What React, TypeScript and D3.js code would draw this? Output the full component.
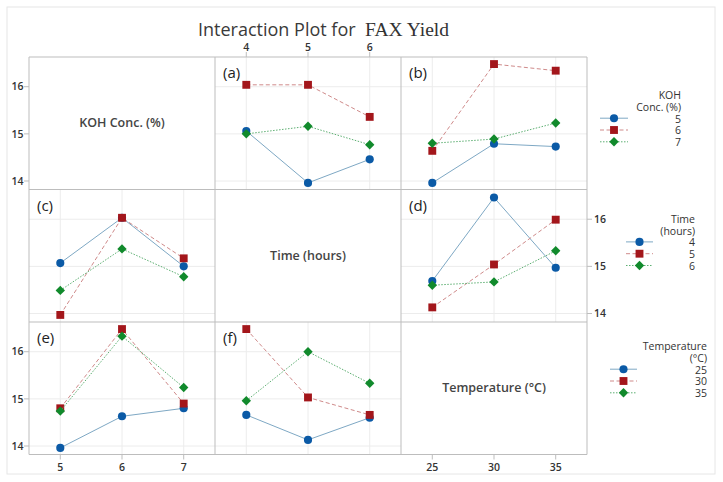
import React from "react";
import * as d3 from "d3";

// factor levels
const kohLevels = [5, 6, 7];
const timeLevels = [4, 5, 6];
const tempLevels = [25, 30, 35];

// mean FAX yield, rows = grouping factor level, cols = x factor level
const kohByTime = [
  [15.06, 13.96, 14.46],
  [16.04, 16.04, 15.36],
  [15.0, 15.16, 14.77],
];
const kohByTemp = [
  [13.96, 14.79, 14.73],
  [14.64, 16.48, 16.34],
  [14.8, 14.89, 15.23],
];
const timeByKoh = [
  [15.07, 16.03, 15.0],
  [13.97, 16.03, 15.17],
  [14.49, 15.37, 14.78],
];
const timeByTemp = [
  [14.69, 16.46, 14.97],
  [14.13, 15.04, 15.99],
  [14.6, 14.67, 15.33],
];
const tempByKoh = [
  [13.96, 14.63, 14.8],
  [14.8, 16.48, 14.9],
  [14.74, 16.33, 15.24],
];
const tempByTime = [
  [14.66, 14.13, 14.6],
  [16.48, 15.03, 14.66],
  [14.96, 16.0, 15.33],
];

const yTicks = [14, 15, 16];
const factorNames = ["KOH Conc. (%)", "Time (hours)", "Temperature (°C)"];
const legendTitles = [["KOH", "Conc. (%)"], ["Time", "(hours)"], ["Temperature", "(°C)"]];
const factorLevels = [kohLevels, timeLevels, tempLevels];

const cells: Record<string, { values: number[][]; tag: string }> = {
  "0-1": { values: kohByTime, tag: "(a)" },
  "0-2": { values: kohByTemp, tag: "(b)" },
  "1-0": { values: timeByKoh, tag: "(c)" },
  "1-2": { values: timeByTemp, tag: "(d)" },
  "2-0": { values: tempByKoh, tag: "(e)" },
  "2-1": { values: tempByTime, tag: "(f)" },
};

const series = [
  { fill: "#0b5aa6", stroke: "#7ea8c4", dash: "none", symbol: d3.symbolCircle, size: 52, rot: 0 },
  { fill: "#a3161b", stroke: "#cf8a8a", dash: "4,2.5", symbol: d3.symbolSquare, size: 62, rot: 0 },
  { fill: "#118a2c", stroke: "#5daf72", dash: "1.5,1.5", symbol: d3.symbolSquare, size: 44, rot: 45 },
];

const W = 723;
const H = 482;
const left = 29;
const top = 57;
const cw = 186;
const ch = 132.5;
const sans = "'Open Sans', 'Noto Sans', sans-serif";
const serif = "'Liberation Serif', 'Times New Roman', serif";

const legendLayout = [
  { y: 99, lineX: [600, 628], textX: 681 },
  { y: 222.7, lineX: [626, 653], textX: 695 },
  { y: 350, lineX: [610, 637], textX: 707 },
];
const legendStep = 11.8;

const App = () => {
  const y = d3.scaleLinear().domain([13.82, 16.63]).range([ch, 0]);
  const xScales = factorLevels.map((lv) => {
    const step = lv[1] - lv[0];
    return d3
      .scaleLinear()
      .domain([lv[0] - 0.507 * step, lv[2] + 0.507 * step])
      .range([0, cw]);
  });
  const sym = (i: number) => d3.symbol(series[i].symbol, series[i].size)() as string;

  const panels = [];
  for (let r = 0; r < 3; r++) {
    for (let c = 0; c < 3; c++) {
      const x = xScales[c];
      const key = `${r}-${c}`;
      const cell = cells[key];
      panels.push(
        <g key={key} transform={`translate(${left + c * cw}, ${top + r * ch})`}>
          {cell && (
            <g>
              {factorLevels[c].map((v) => (
                <line key={"v" + v} x1={x(v)} x2={x(v)} y1={0} y2={ch} stroke="#ececec" />
              ))}
              {yTicks.map((v) => (
                <line key={"h" + v} x1={0} x2={cw} y1={y(v)} y2={y(v)} stroke="#ececec" />
              ))}
              <text x={8} y={21} fontSize={15} fill="#222" fontFamily={sans}>
                {cell.tag}
              </text>
              {cell.values.map((row, i) => {
                const pts = row.map((v, j) => [x(factorLevels[c][j]), y(v)] as [number, number]);
                return (
                  <g key={i}>
                    <path
                      d={d3.line()(pts) as string}
                      fill="none"
                      stroke={series[i].stroke}
                      strokeWidth={1}
                      strokeDasharray={series[i].dash}
                    />
                    {pts.map((p, j) => (
                      <path
                        key={j}
                        d={sym(i)}
                        fill={series[i].fill}
                        transform={`translate(${p[0]}, ${p[1]}) rotate(${series[i].rot})`}
                      />
                    ))}
                  </g>
                );
              })}
            </g>
          )}
          {r === c && (
            <text
              x={cw / 2}
              y={ch / 2 + 4}
              textAnchor="middle"
              fontSize={12.5}
              fontWeight={600}
              fill="#444"
              fontFamily={sans}
            >
              {factorNames[r]}
            </text>
          )}
        </g>
      );
    }
  }

  const tickFont = { fontSize: 10.5, fontWeight: 600, fill: "#333", fontFamily: sans };

  return (
    <svg width={W} height={H} style={{ position: "absolute", left: 0, top: 0, background: "#fff" }}>
      <rect x={7} y={7} width={708} height={467} fill="#fff" stroke="#e6e6e6" />
      <text x={198} y={36} fill="#3a3a3a" fontFamily={sans} fontSize={18} fontWeight={500}>
        Interaction Plot for
      </text>
      <text x={365} y={36} fill="#333" fontFamily={serif} fontSize={19.5}>
        FAX Yield
      </text>
      {panels}
      {/* panel borders */}
      {d3.range(4).map((i) => (
        <line key={"bv" + i} x1={left + i * cw} x2={left + i * cw} y1={top} y2={top + 3 * ch} stroke="#bdbdbd" />
      ))}
      {d3.range(4).map((i) => (
        <line key={"bh" + i} x1={left} x2={left + 3 * cw} y1={top + i * ch} y2={top + i * ch} stroke="#bdbdbd" />
      ))}
      {/* top axis: Time */}
      {timeLevels.map((v) => (
        <g key={"t" + v} transform={`translate(${left + cw + xScales[1](v)}, ${top})`}>
          <line y1={0} y2={-5} stroke="#bdbdbd" />
          <text y={-6} textAnchor="middle" {...tickFont}>
            {v}
          </text>
        </g>
      ))}
      {/* bottom axes: KOH and Temperature */}
      {[0, 2].map((c) =>
        factorLevels[c].map((v) => (
          <g key={`b${c}-${v}`} transform={`translate(${left + c * cw + xScales[c](v)}, ${top + 3 * ch})`}>
            <line y1={0} y2={5} stroke="#bdbdbd" />
            <text y={16} textAnchor="middle" {...tickFont}>
              {v}
            </text>
          </g>
        ))
      )}
      {/* left axes rows 1, 3; right axis row 2 */}
      {[0, 2].map((r) =>
        yTicks.map((v) => (
          <g key={`l${r}-${v}`} transform={`translate(${left}, ${top + r * ch + y(v)})`}>
            <line x1={0} x2={-5} stroke="#bdbdbd" />
            <text x={-5.5} dy="0.35em" textAnchor="end" {...tickFont}>
              {v}
            </text>
          </g>
        ))
      )}
      {yTicks.map((v) => (
        <g key={`r-${v}`} transform={`translate(${left + 3 * cw}, ${top + ch + y(v)})`}>
          <line x1={0} x2={5} stroke="#bdbdbd" />
          <text x={7} dy="0.35em" textAnchor="start" {...tickFont}>
            {v}
          </text>
        </g>
      ))}
      {/* legends */}
      {legendLayout.map((lg, k) => (
        <g key={"lg" + k} fontFamily={sans} fontSize={10.5} fill="#333">
          {legendTitles[k].map((t, i) => (
            <text key={t} x={lg.textX} y={lg.y + i * legendStep} textAnchor="end">
              {t}
            </text>
          ))}
          {factorLevels[k].map((v, i) => {
            const base = lg.y + (i + 2) * legendStep;
            const ly = base - 4.4;
            const mx = (lg.lineX[0] + lg.lineX[1]) / 2;
            return (
              <g key={v}>
                <line
                  x1={lg.lineX[0]}
                  x2={lg.lineX[1]}
                  y1={ly}
                  y2={ly}
                  stroke={series[i].stroke}
                  strokeDasharray={series[i].dash}
                />
                <path d={sym(i)} fill={series[i].fill} transform={`translate(${mx}, ${ly}) rotate(${series[i].rot})`} />
                <text x={lg.textX} y={base} textAnchor="end">
                  {v}
                </text>
              </g>
            );
          })}
        </g>
      ))}
    </svg>
  );
};

export default App;
